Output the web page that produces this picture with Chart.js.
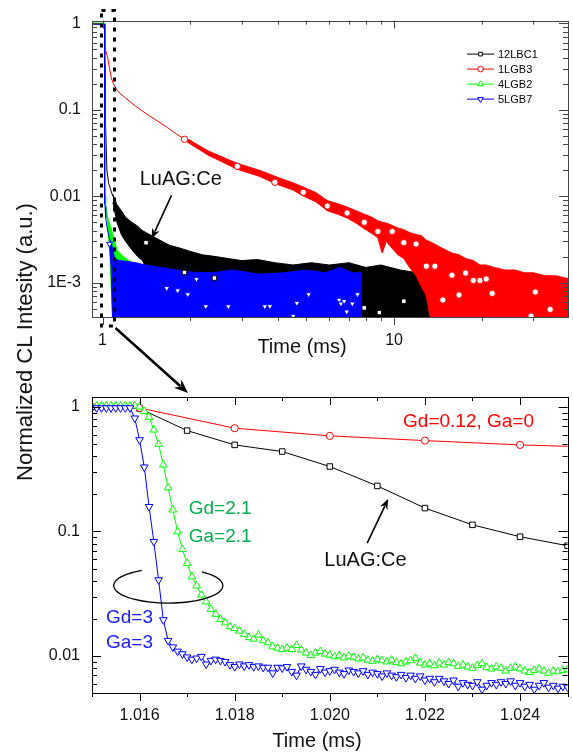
<!DOCTYPE html>
<html>
<head>
<meta charset="utf-8">
<title>CL decay</title>
<script src="https://cdn.jsdelivr.net/npm/chart.js@4.4.1/dist/chart.umd.min.js"></script>
<style>
  html, body { margin: 0; padding: 0; background: #fff; }
  body { position: relative; width: 573px; height: 754px; overflow: hidden;
         font-family: "Liberation Sans", Arial, sans-serif; color: #111; }
  canvas { position: absolute; left: 0; }
  #topChart { top: 0; z-index: 2; }
  #bottomChart { top: 360px; z-index: 1; }
  .lbl { position: absolute; z-index: 3; white-space: nowrap; transform: translate(-50%, -50%); }
</style>
</head>
<body>
<canvas id="topChart" width="573" height="400"></canvas>
<canvas id="bottomChart" width="573" height="394"></canvas>
<div class="lbl" style="left:25px;top:342px;font-size:22px;transform:translate(-50%,-50%) rotate(-90deg)">Normalized CL Intesity (a.u.)</div>
<div class="lbl" style="left:302px;top:346px;font-size:20px">Time (ms)</div>
<div class="lbl" style="left:317px;top:740px;font-size:20px">Time (ms)</div>
<script>
// series info (legend order = drawing order in the original)
const seriesNames = ['12LBC1', '1LGB3', '4LGB2', '5LGB7'];
const seriesColors = ['#000000', '#ff0000', '#00ff00', '#0000ff'];
const seriesMarkers = ['rect', 'circle', 'triangle', 'triangle'];
const markerFlip = [false, false, false, true];

// ---- top panel (log-log) ----
// clean early part of each decay
const blackLineT = [0.92, 1.016, 1.017, 1.018, 1.019, 1.020, 1.021, 1.022, 1.023, 1.024, 1.025, 1.035, 1.05, 1.07, 1.085];
const blackLineY = [1.0, 0.97, 0.645, 0.495, 0.438, 0.332, 0.232, 0.154, 0.113, 0.091, 0.077, 0.020, 0.014, 0.0115, 0.0100];
const redLineT = [0.92, 1.016, 1.018, 1.020, 1.022, 1.024, 1.03, 1.042, 1.057, 1.071, 1.09, 1.12, 1.16, 1.2, 1.3, 1.4, 1.5, 1.65, 1.8, 1.95];
const redLineY = [1.0, 0.98, 0.674, 0.585, 0.536, 0.495, 0.46, 0.40, 0.30, 0.235, 0.20, 0.17, 0.15, 0.137, 0.11, 0.092, 0.079, 0.064, 0.052, 0.044];
const greenLineT = [0.92, 1.016, 1.0162, 1.0164, 1.0166, 1.0168, 1.017, 1.0175, 1.018, 1.019, 1.020, 1.025];
const greenLineY = [1.02, 1.0, 0.826, 0.502, 0.225, 0.0996, 0.0556, 0.0238, 0.0167, 0.0113, 0.0102, 0.0078];
const blueLineT = [0.92, 1.0158, 1.016, 1.0162, 1.0164, 1.0166, 1.017, 1.018, 1.020, 1.025, 1.035, 1.045, 1.057];
const blueLineY = [0.98, 0.98, 0.543, 0.158, 0.0408, 0.0133, 0.0098, 0.0082, 0.0076, 0.0056, 0.0045, 0.0038, 0.0032];

// noisy tail: upper / lower edge of the noise band
const blackBandT = [1.085, 1.12, 1.16, 1.2, 1.26, 1.32, 1.37, 1.45, 1.52, 1.6, 1.7, 1.85, 2.0, 2.2, 2.45, 2.7, 3.0, 3.4, 3.9, 4.5, 5.2, 6.0, 7.0, 8.0, 9.0, 10.5, 12.0, 13.5, 15.0, 18, 22, 27, 33, 40];
const blackBandHigh = [0.0105, 0.0080, 0.0068, 0.0057, 0.0050, 0.0045, 0.0040, 0.0036, 0.0033, 0.0030, 0.0027, 0.0025, 0.0023, 0.0021, 0.0020, 0.0019, 0.0018, 0.00185, 0.0017, 0.0016, 0.0017, 0.0016, 0.0017, 0.0015, 0.0016, 0.0014, 0.0013, 0.0014, 0.0012, 0.0012, 0.0011, 0.0011, 0.0011, 0.0010];
const blackBandLow = [0.0085, 0.0050, 0.0036, 0.0030, 0.0024, 0.0020, 0.0018, 0.00125, 0.0010, 0.0008, 0.0006, 0.0004, 0.0003, 0.0003, 0.0003, 0.0003, 0.0003, 0.0003, 0.0003, 0.0003, 0.0003, 0.0003, 0.0003, 0.0003, 0.0003, 0.0003, 0.0003, 0.0003, 0.0003, 0.0003, 0.0003, 0.0003, 0.0003, 0.0003];
const redBandT = [1.95, 2.3, 2.9, 3.45, 4.0, 4.5, 4.9, 5.4, 5.9, 6.4, 6.9, 7.4, 7.9, 8.4, 8.8, 9.1, 9.4, 9.85, 10.3, 10.8, 11.3, 11.9, 12.4, 12.9, 13.5, 14.3, 15.0, 15.8, 16.7, 17.6, 18.7, 19.7, 20.7, 22, 24, 26, 28, 30, 33, 36, 40];
const redBandHigh = [0.0465, 0.0335, 0.0240, 0.0200, 0.0165, 0.0143, 0.0127, 0.0110, 0.0089, 0.0082, 0.0075, 0.0068, 0.0062, 0.0057, 0.0052, 0.0050, 0.0049, 0.0046, 0.0043, 0.0041, 0.0038, 0.0036, 0.0035, 0.0031, 0.0029, 0.0026, 0.0024, 0.0022, 0.0021, 0.0019, 0.0018, 0.0016, 0.0016, 0.0015, 0.0014, 0.0014, 0.0013, 0.0013, 0.0012, 0.0012, 0.0011];
const redBandLow = [0.0425, 0.0300, 0.0205, 0.0170, 0.0136, 0.0118, 0.0100, 0.0086, 0.0068, 0.0062, 0.0056, 0.0049, 0.0042, 0.0037, 0.0033, 0.0022, 0.0030, 0.0025, 0.0021, 0.0019, 0.0015, 0.0012, 0.0009, 0.0007, 0.0003, 0.0003, 0.0003, 0.0003, 0.0003, 0.0003, 0.0003, 0.0003, 0.0003, 0.0003, 0.0003, 0.0003, 0.0003, 0.0003, 0.0003, 0.0003, 0.0003];
const greenBandT = [1.025, 1.04, 1.06, 1.085, 1.12, 1.16, 1.2, 1.3, 1.45, 1.6, 2.0, 2.5, 3.0, 4.0, 5.0, 6.0, 7.0, 7.75];
const greenBandHigh = [0.0078, 0.0058, 0.0047, 0.0036, 0.0024, 0.0021, 0.0019, 0.0016, 0.0014, 0.0013, 0.0012, 0.0012, 0.0011, 0.0011, 0.0011, 0.0011, 0.0012, 0.0011];
const greenBandLow = [0.0075, 0.0050, 0.0020, 0.0003, 0.0003, 0.0003, 0.0003, 0.0003, 0.0003, 0.0003, 0.0003, 0.0003, 0.0003, 0.0003, 0.0003, 0.0003, 0.0003, 0.0003];
const blueBandT = [1.057, 1.07, 1.085, 1.1, 1.14, 1.2, 1.3, 1.4, 1.57, 1.8, 2.03, 2.4, 2.8, 3.45, 4.2, 5.0, 5.8, 6.5, 7.2, 7.77];
const blueBandHigh = [0.0032, 0.0029, 0.0024, 0.0019, 0.0018, 0.00177, 0.0017, 0.0016, 0.0015, 0.0014, 0.00132, 0.0013, 0.0014, 0.00125, 0.0013, 0.0014, 0.0013, 0.0015, 0.0013, 0.0013];
const blueBandLow = [0.0028, 0.0015, 0.0003, 0.0003, 0.0003, 0.0003, 0.0003, 0.0003, 0.0003, 0.0003, 0.0003, 0.0003, 0.0003, 0.0003, 0.0003, 0.0003, 0.0003, 0.0003, 0.0003, 0.0003];

// sparse symbols on the top panel
const blackMarkT = [1.41, 1.91, 2.42, 7.9, 8.9, 10.8];
const blackMarkY = [0.0029, 0.00131, 0.00113, 0.00051, 0.00045, 0.00061];
const redMarkT = [1.91, 2.9, 3.9, 4.88, 5.9, 6.9, 7.9, 8.8, 9.85, 10.8, 11.9, 12.9, 13.8, 14.7, 15.8, 16.7, 17.6, 18.7, 19.7, 20.7, 21.7, 29.5, 30.5, 34.3];
const redMarkY = [0.0456, 0.0222, 0.0145, 0.0111, 0.0077, 0.0064, 0.0050, 0.0039, 0.0039, 0.0029, 0.0028, 0.00155, 0.00155, 0.00063, 0.00122, 0.00072, 0.00129, 0.00106, 0.00106, 0.0011, 0.00075, 0.00041, 0.00078, 0.00049];
const blueMarkT = [1.057, 1.66, 1.81, 1.96, 2.1, 2.26, 2.7, 3.6, 3.75, 4.51, 4.64, 5.09, 6.48, 6.57, 6.74, 6.88, 7.19, 7.49];
const blueMarkY = [0.0028, 0.00086, 0.00081, 0.00073, 0.00110, 0.00053, 0.00053, 0.00053, 0.00053, 0.00041, 0.00058, 0.00073, 0.00063, 0.00057, 0.00061, 0.00046, 0.00057, 0.00073];

const topXMajor = [1, 10];
const topXLabels = ['1', '10'];
const topXMinor = [2, 3, 4, 5, 6, 7, 8, 9, 20, 30];
const topYMajor = [1, 0.1, 0.01, 0.001];
const topYLabels = ['1', '0.1', '0.01', '1E-3'];

// ---- bottom panel (zoom on 1.015 - 1.025 ms) ----
const bottomBlackT = [1.014, 1.015, 1.016, 1.017, 1.018, 1.019, 1.020, 1.021, 1.022, 1.023, 1.024, 1.025, 1.026];
const bottomBlackY = [1.0, 1.0, 0.97, 0.645, 0.495, 0.438, 0.332, 0.232, 0.154, 0.113, 0.0907, 0.0768, 0.068];
const bottomRedT = [1.014, 1.016, 1.018, 1.020, 1.022, 1.024, 1.026];
const bottomRedY = [1.0, 0.98, 0.674, 0.585, 0.536, 0.495, 0.47];
// green / blue are sampled every 0.1 us starting at 1.0150 ms
const fineStart = 1.015, fineStep = 0.0001;
const bottomGreenY = [
  1.02, 1.02, 1.02, 1.02, 1.02, 1.02, 1.02, 1.02, 1.02, 1.02,
  1.0, 0.92, 0.826, 0.654, 0.502, 0.342, 0.225, 0.149, 0.0996, 0.0718,
  0.0556, 0.0433, 0.0366, 0.0310, 0.0273, 0.0238, 0.0217, 0.0197, 0.0185, 0.0172,
  0.0167, 0.0159, 0.0150, 0.0141, 0.0137, 0.0148, 0.0133, 0.0128, 0.0119, 0.0116,
  0.0113, 0.0116, 0.0113, 0.0122, 0.0112, 0.0106, 0.0101, 0.0106, 0.0109, 0.0104,
  0.0102,
  0.0099, 0.0101, 0.0097, 0.0100, 0.0098, 0.0095, 0.0097, 0.0093, 0.0091, 0.0094,
  0.0092, 0.0090, 0.0093, 0.0089, 0.0087, 0.0090, 0.0092, 0.0096, 0.0088, 0.0085,
  0.0087, 0.0084, 0.0088, 0.0085, 0.0089, 0.0087, 0.0083, 0.0085, 0.0082, 0.0080,
  0.0084, 0.0087, 0.0081, 0.0079, 0.0082, 0.0080, 0.0076, 0.0080, 0.0082, 0.0079,
  0.0076, 0.0074, 0.0077, 0.0079, 0.0076, 0.0073, 0.0076, 0.0075, 0.0077, 0.0078
];
const bottomBlueY = [
  0.98, 0.98, 0.98, 0.98, 0.98, 0.98, 0.98, 0.98, 0.98, 0.811,
  0.543, 0.328, 0.158, 0.0828, 0.0408, 0.0195, 0.0133, 0.0118, 0.0109, 0.0104,
  0.0098, 0.0094, 0.0096, 0.0099, 0.0086, 0.0092, 0.0094, 0.0092, 0.0090, 0.0085,
  0.0082, 0.0086, 0.0083, 0.0085, 0.0082, 0.0083, 0.0081, 0.0081, 0.0073, 0.0081,
  0.0080, 0.0082, 0.0075, 0.0070, 0.0083, 0.0078, 0.0075, 0.0071, 0.0079, 0.0074,
  0.0076,
  0.0078, 0.0074, 0.0072, 0.0077, 0.0075, 0.0073, 0.0076, 0.0071, 0.0074, 0.0072,
  0.0069, 0.0073, 0.0070, 0.0068, 0.0071, 0.0067, 0.0070, 0.0066, 0.0069, 0.0064,
  0.0066, 0.0062, 0.0066, 0.0063, 0.0060, 0.0064, 0.0057, 0.0061, 0.0059, 0.0058,
  0.0062, 0.0054, 0.0058, 0.0061, 0.0059, 0.0062, 0.0060, 0.0063, 0.0058, 0.0061,
  0.0057, 0.0059, 0.0054, 0.0058, 0.0061, 0.0056, 0.0058, 0.0055, 0.0057, 0.0056
];

const bottomXMajor = [1.016, 1.018, 1.020, 1.022, 1.024];
const bottomXLabels = ['1.016', '1.018', '1.020', '1.022', '1.024'];
const bottomXMinor = [1.015, 1.017, 1.019, 1.021, 1.023, 1.025];
const bottomYMajor = [1, 0.1, 0.01];
const bottomYLabels = ['1', '0.1', '0.01'];

const minorSteps = [2, 3, 4, 5, 6, 7, 8, 9];
const FONT = '"Liberation Sans", Arial, sans-serif';

function pts(xs, ys) { return xs.map((x, i) => ({ x: x, y: ys[i] })); }
function minors(decades, lo, hi) {
  const out = [];
  decades.forEach(d => minorSteps.forEach(m => { const v = m * d; if (v > lo && v < hi) out.push(v); }));
  return out;
}
const topYMinor = minors([1e-4, 1e-3, 1e-2, 1e-1], 4.0e-4, 1.08);
const bottomYMinor = minors([1e-3, 1e-2, 1e-1], 0.00505, 1.2);

function drawMarker(ctx, style, x, y, r, flip, stroke, fill) {
  ctx.save();
  ctx.beginPath();
  if (style === 'circle') {
    ctx.arc(x, y, r, 0, Math.PI * 2);
  } else if (style === 'rect') {
    const s = r * Math.SQRT1_2;
    ctx.rect(x - s, y - s, 2 * s, 2 * s);
  } else {
    const d = flip ? -1 : 1;
    ctx.moveTo(x, y - d * r);
    ctx.lineTo(x + r * 0.866, y + d * r * 0.5);
    ctx.lineTo(x - r * 0.866, y + d * r * 0.5);
    ctx.closePath();
  }
  ctx.fillStyle = fill; ctx.fill();
  ctx.strokeStyle = stroke; ctx.lineWidth = 1; ctx.stroke();
  ctx.restore();
}

function arrow(ctx, x1, y1, x2, y2, w, head) {
  const ang = Math.atan2(y2 - y1, x2 - x1);
  ctx.save();
  ctx.strokeStyle = '#000'; ctx.fillStyle = '#000'; ctx.lineWidth = w;
  ctx.beginPath();
  ctx.moveTo(x1, y1);
  ctx.lineTo(x2 - Math.cos(ang) * head * 0.7, y2 - Math.sin(ang) * head * 0.7);
  ctx.stroke();
  ctx.beginPath();
  ctx.moveTo(x2, y2);
  ctx.lineTo(x2 - head * Math.cos(ang - 0.38), y2 - head * Math.sin(ang - 0.38));
  ctx.lineTo(x2 - head * 0.65 * Math.cos(ang), y2 - head * 0.65 * Math.sin(ang));
  ctx.lineTo(x2 - head * Math.cos(ang + 0.38), y2 - head * Math.sin(ang + 0.38));
  ctx.closePath();
  ctx.fill();
  ctx.restore();
}

// frame + inward ticks (outward on the bottom axis)
function drawFrame(chart, t) {
  const { ctx, chartArea: a, scales: { x, y } } = chart;
  ctx.save();
  ctx.strokeStyle = t.color;
  ctx.lineWidth = 1;
  ctx.beginPath();
  const vx = (v, lt, lb) => {
    const p = Math.round(x.getPixelForValue(v)) + 0.5;
    ctx.moveTo(p, a.top); ctx.lineTo(p, a.top + lt);
    ctx.moveTo(p, a.bottom); ctx.lineTo(p, a.bottom + lb);
  };
  const hy = (v, len) => {
    const p = Math.round(y.getPixelForValue(v)) + 0.5;
    ctx.moveTo(a.left, p); ctx.lineTo(a.left + len, p);
    ctx.moveTo(a.right, p); ctx.lineTo(a.right - len, p);
  };
  t.xMajor.forEach(v => vx(v, 8, 8));
  t.xMinor.forEach(v => vx(v, 4, 4));
  t.yMajor.forEach(v => hy(v, 9));
  t.yMinor.forEach(v => hy(v, 5));
  ctx.stroke();
  ctx.strokeRect(Math.round(a.left) + 0.5, Math.round(a.top) + 0.5,
                 Math.round(a.right - a.left), Math.round(a.bottom - a.top));
  ctx.restore();
}

function text(ctx, s, x, y, size, color, align) {
  ctx.save();
  ctx.font = size + 'px ' + FONT;
  ctx.fillStyle = color;
  ctx.textAlign = align || 'left';
  ctx.textBaseline = 'middle';
  ctx.fillText(s, x, y);
  ctx.restore();
}

const topDecor = {
  id: 'topDecor',
  afterDatasetsDraw(chart) {
    const { ctx, chartArea: a, scales: { x, y } } = chart;
    drawFrame(chart, { color: '#444', xMajor: topXMajor, xMinor: topXMinor, yMajor: topYMajor, yMinor: topYMinor });

    // legend
    seriesNames.forEach((name, i) => {
      const yy = a.top + 33 + i * 15 + 0.5;
      ctx.save();
      ctx.strokeStyle = seriesColors[i]; ctx.lineWidth = 1;
      ctx.beginPath(); ctx.moveTo(a.right - 101, yy); ctx.lineTo(a.right - 74, yy); ctx.stroke();
      ctx.restore();
      const r = seriesMarkers[i] === 'rect' ? 2.6 : (seriesMarkers[i] === 'circle' ? 2.8 : 3.3);
      drawMarker(ctx, seriesMarkers[i], a.right - 87.5, yy, r, markerFlip[i], seriesColors[i], '#fff');
      text(ctx, name, a.right - 70, yy + 0.5, 11, '#000');
    });

    // LuAG:Ce label and its arrow
    text(ctx, 'LuAG:Ce', x.getPixelForValue(1.855), y.getPixelForValue(0.0157), 20, '#111', 'center');
    arrow(ctx, x.getPixelForValue(1.724), y.getPixelForValue(0.01023),
               x.getPixelForValue(1.473), y.getPixelForValue(0.00323), 1.6, 11);

    // dotted box around the early window + arrow to the zoom panel
    const bl = Math.round(x.getPixelForValue(0.9875)) + 0.5;
    const br = Math.round(x.getPixelForValue(1.094)) + 0.5;
    const bt = a.top - 10, bb = a.bottom + 9;
    ctx.save();
    ctx.strokeStyle = '#000'; ctx.lineWidth = 3; ctx.setLineDash([4, 6]);
    ctx.strokeRect(bl, bt, br - bl, bb - bt);
    ctx.restore();
    arrow(ctx, br + 1, bb + 2, 188, 393, 2.5, 15);
  }
};

const bottomDecor = {
  id: 'bottomDecor',
  afterDatasetsDraw(chart) {
    const { ctx, scales: { x, y } } = chart;
    drawFrame(chart, { color: '#000', xMajor: bottomXMajor, xMinor: bottomXMinor, yMajor: bottomYMajor, yMinor: bottomYMinor });

    text(ctx, 'Gd=0.12, Ga=0', x.getPixelForValue(1.02154), y.getPixelForValue(0.76), 19, '#ff0000');
    text(ctx, 'Gd=2.1', x.getPixelForValue(1.017034), y.getPixelForValue(0.1512), 19, '#00b050');
    text(ctx, 'Ga=2.1', x.getPixelForValue(1.017034), y.getPixelForValue(0.0901), 19, '#00b050');
    text(ctx, 'Gd=3', x.getPixelForValue(1.015293), y.getPixelForValue(0.02014), 19, '#1a1aff');
    text(ctx, 'Ga=3', x.getPixelForValue(1.015293), y.getPixelForValue(0.01269), 19, '#1a1aff');
    text(ctx, 'LuAG:Ce', x.getPixelForValue(1.019885), y.getPixelForValue(0.0589), 20, '#111');
    arrow(ctx, x.getPixelForValue(1.020786), y.getPixelForValue(0.0806),
               x.getPixelForValue(1.021226), y.getPixelForValue(0.1819), 1.6, 11);

    // open ellipse grouping the two heavily doped samples
    ctx.save();
    ctx.strokeStyle = '#000'; ctx.lineWidth = 1.3;
    ctx.beginPath();
    ctx.ellipse(x.getPixelForValue(1.016604), y.getPixelForValue(0.03673), 54.5, 17.5, 0,
                308 * Math.PI / 180, 601 * Math.PI / 180);
    ctx.stroke();
    ctx.restore();
  }
};

// ---- build top datasets ----
const topLines = [[blackLineT, blackLineY], [redLineT, redLineY], [greenLineT, greenLineY], [blueLineT, blueLineY]];
const topBands = [[blackBandT, blackBandHigh, blackBandLow], [redBandT, redBandHigh, redBandLow],
                  [greenBandT, greenBandHigh, greenBandLow], [blueBandT, blueBandHigh, blueBandLow]];
const topMarks = [[blackMarkT, blackMarkY], [redMarkT, redMarkY], [[], []], [blueMarkT, blueMarkY]];
const drawOrder = [4, 3, 2, 1]; // blue on top, black at the bottom

const topDatasets = [];
seriesNames.forEach((name, i) => {
  const c = seriesColors[i];
  topDatasets.push({ label: name, data: pts(topLines[i][0], topLines[i][1]), borderColor: c, borderWidth: 1,
                     pointRadius: 0, fill: false, order: drawOrder[i] });
  topDatasets.push({ label: name + ' low', data: pts(topBands[i][0], topBands[i][2]), borderColor: c, borderWidth: 1,
                     pointRadius: 0, fill: false, order: drawOrder[i] });
  topDatasets.push({ label: name + ' high', data: pts(topBands[i][0], topBands[i][1]), borderColor: c, borderWidth: 1,
                     pointRadius: 0, fill: '-1', backgroundColor: c, order: drawOrder[i] });
  topDatasets.push({ label: name + ' sym', data: pts(topMarks[i][0], topMarks[i][1]), showLine: false,
                     pointStyle: seriesMarkers[i], pointRotation: markerFlip[i] ? 180 : 0,
                     pointRadius: seriesMarkers[i] === 'triangle' ? 3.4 : 3.2,
                     pointBackgroundColor: '#fff', pointBorderColor: c, pointBorderWidth: 1, order: 0 });
});

// ---- build bottom datasets ----
const fineT = bottomGreenY.map((_, i) => +(fineStart + i * fineStep).toFixed(4));
const bottomData = [[bottomBlackT, bottomBlackY], [bottomRedT, bottomRedY], [fineT, bottomGreenY], [fineT, bottomBlueY]];
const bottomRadius = [3.9, 3.6, 4.4, 4.4];
const bottomDatasets = seriesNames.map((name, i) => ({
  label: name, data: pts(bottomData[i][0], bottomData[i][1]),
  borderColor: seriesColors[i], borderWidth: 1, fill: false,
  pointStyle: seriesMarkers[i], pointRotation: markerFlip[i] ? 180 : 0, pointRadius: bottomRadius[i],
  pointBackgroundColor: '#fff', pointBorderColor: seriesColors[i], pointBorderWidth: 1,
  order: drawOrder[i]
}));

function axisCommon(labels, pad) {
  return {
    grid: { display: false, drawTicks: false },
    border: { display: false },
    ticks: { autoSkip: false, maxRotation: 0, minRotation: 0, padding: pad, color: '#111',
             font: { family: FONT, size: 16 }, callback: (v, i) => labels[i] }
  };
}

new Chart(document.getElementById('topChart'), {
  type: 'line',
  data: { datasets: topDatasets },
  options: {
    responsive: false, animation: false, events: [],
    layout: { padding: { left: 0, right: 4, top: 20, bottom: 53 } },
    plugins: { legend: { display: false }, tooltip: { enabled: false } },
    elements: { line: { tension: 0 } },
    scales: {
      x: Object.assign(axisCommon(topXLabels, 14), {
        type: 'logarithmic', min: 0.92, max: 39.5, bounds: 'data',
        afterBuildTicks: s => { s.ticks = topXMajor.map(v => ({ value: v })); },
        afterFit: s => { s.height = 30; }
      }),
      y: Object.assign(axisCommon(topYLabels, 11), {
        type: 'logarithmic', min: 4.0e-4, max: 1.08, bounds: 'data',
        afterBuildTicks: s => { s.ticks = topYMajor.map(v => ({ value: v })); },
        afterFit: s => { s.width = 92; }
      })
    }
  },
  plugins: [topDecor]
});

new Chart(document.getElementById('bottomChart'), {
  type: 'line',
  data: { datasets: bottomDatasets },
  options: {
    responsive: false, animation: false, events: [],
    layout: { padding: { left: 0, right: 4, top: 37, bottom: 0 } },
    plugins: { legend: { display: false }, tooltip: { enabled: false } },
    elements: { line: { tension: 0 } },
    scales: {
      x: Object.assign(axisCommon(bottomXLabels, 13), {
        type: 'linear', min: 1.015, max: 1.025, bounds: 'data',
        afterBuildTicks: s => { s.ticks = bottomXMajor.map(v => ({ value: v })); },
        afterFit: s => { s.height = 61; }
      }),
      y: Object.assign(axisCommon(bottomYLabels, 12), {
        type: 'logarithmic', min: 0.00505, max: 1.2, bounds: 'data',
        afterBuildTicks: s => { s.ticks = bottomYMajor.map(v => ({ value: v })); },
        afterFit: s => { s.width = 92; }
      })
    }
  },
  plugins: [bottomDecor]
});
</script>
</body>
</html>
